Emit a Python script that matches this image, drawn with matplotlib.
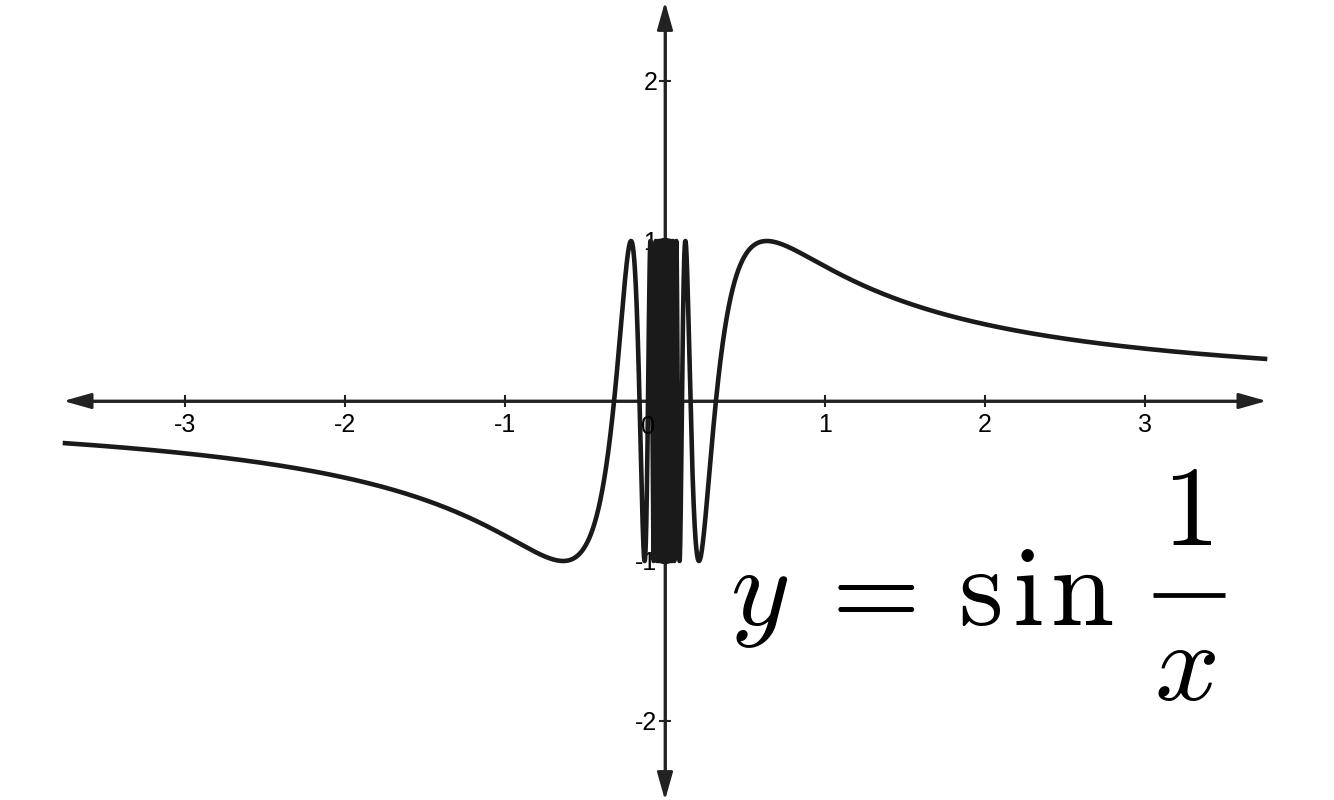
import numpy as np
import matplotlib
matplotlib.use("Agg")
import matplotlib.pyplot as plt

plt.rcParams["font.family"] = ["Liberation Sans", "DejaVu Sans"]
plt.rcParams["axes.unicode_minus"] = False
plt.rcParams["mathtext.fontset"] = "cm"

# ── Data ───────────────────────────────────────────────────────────────────────
x_range = (-3.75, 3.75)          # plotted domain of the curve
x_ticks = [-3, -2, -1, 1, 2, 3]
y_ticks = [-2, -1, 1, 2]

# curve y = sin(1/x), dense sampling so the band near 0 fills in
x = np.linspace(x_range[0], x_range[1], 600001)
x = x[x != 0]
y = np.sin(1.0 / x)

# ── Figure ─────────────────────────────────────────────────────────────────────
W, H, DPI = 1334, 800, 100
PX = 160.0                       # pixels per unit
ox, oy = 665, 401                # origin in pixels


def px(u, v):
    """pixel position (from top-left) -> data coords"""
    return (u - ox) / PX, (oy - v) / PX


fig = plt.figure(figsize=(W / DPI, H / DPI), dpi=DPI)
ax = fig.add_axes([0, 0, 1, 1])
ax.set_xlim(-ox / PX, (W - ox) / PX)
ax.set_ylim(-(H - oy) / PX, oy / PX)

axis_col = "#222222"
curve_col = "#1a1a1a"

ax.plot(x, y, color=curve_col, lw=3.3, solid_joinstyle="round", zorder=3)

for s in ["top", "right"]:
    ax.spines[s].set_visible(False)
for s in ["left", "bottom"]:
    ax.spines[s].set_position(("data", 0))
    ax.spines[s].set_color(axis_col)
    ax.spines[s].set_linewidth(2.0)
ax.spines["bottom"].set_bounds(-3.6, 3.6)
ax.spines["left"].set_bounds(-2.35, 2.35)

ax.set_xticks(x_ticks)
ax.set_yticks(y_ticks)
ax.set_xticklabels([str(t) for t in x_ticks])
ax.set_yticklabels([str(t) for t in y_ticks])
ax.tick_params(direction="inout", length=9, width=1.5, color=axis_col,
               labelsize=18, labelcolor="black")
ax.tick_params(axis="x", pad=4)
ax.tick_params(axis="y", pad=1)
ax.text(-0.06, -0.085, "0", ha="right", va="top", fontsize=18)

# arrowheads on both axes
arrow = dict(arrowstyle="-|>,head_length=1.7,head_width=0.48", color=axis_col,
             lw=2.0, mutation_scale=10, shrinkA=0, shrinkB=0)
for end in [(-3.76, 0), (3.76, 0), (0, 2.495), (0, -2.495)]:
    ax.annotate("", xy=end, xytext=(0, 0), arrowprops=arrow, zorder=2)

# formula y = sin 1/x, set piece by piece for the wide spacing
fs = 82
ax.text(*px(730, 625), r"$y$", fontsize=fs, ha="left", va="baseline")
for txt, u in [(r"$=$", 864), (r"$\mathrm{s}$", 980),
               (r"$\mathrm{i}$", 1027), (r"$\mathrm{n}$", 1082)]:
    ax.text(*px(u, 625), txt, fontsize=fs, ha="center", va="baseline")
ax.text(*px(1187, 545), r"$1$", fontsize=fs, ha="center", va="baseline")
ax.text(*px(1185, 700), r"$x$", fontsize=fs, ha="center", va="baseline")
bx0, by = px(1153, 595)
bx1, _ = px(1225, 595)
ax.plot([bx0, bx1], [by, by], color="black", lw=3.4, solid_capstyle="butt")

fig.savefig("out.png", dpi=DPI, facecolor="white")
